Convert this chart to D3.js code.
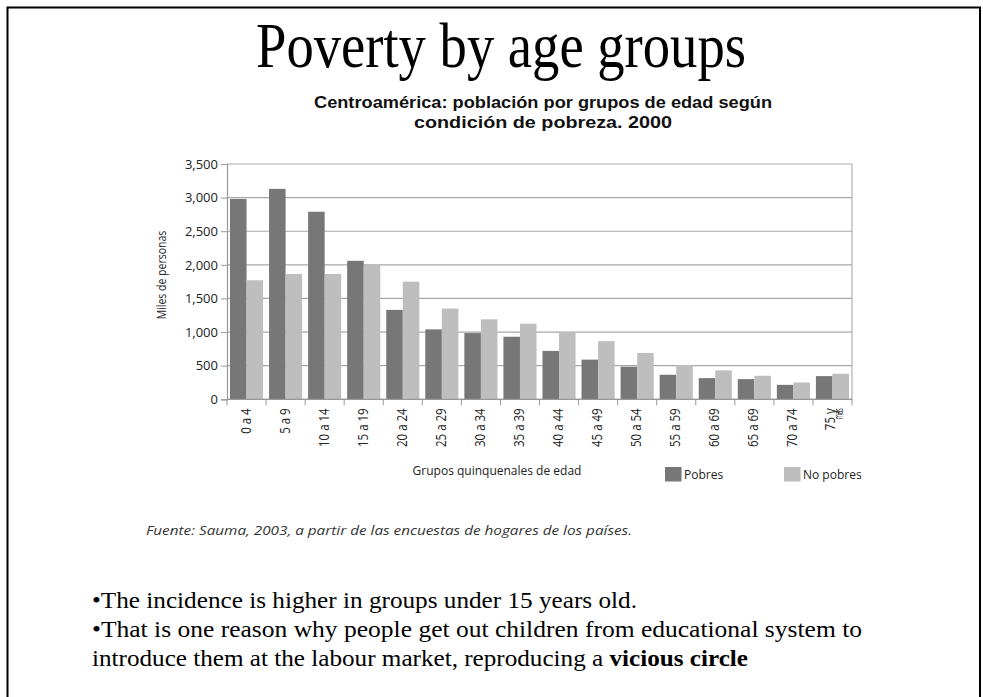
<!DOCTYPE html>
<html>
<head>
<meta charset="utf-8">
<script src="https://cdn.jsdelivr.net/npm/d3@7"></script>
<style>
  html, body { margin: 0; padding: 0; background: #fff; }
  svg { display: block; }
</style>
</head>
<body>
<script>
// ---- data ----
const categories = ["0 a 4","5 a 9","10 a 14","15 a 19","20 a 24","25 a 29","30 a 34","35 a 39",
                    "40 a 44","45 a 49","50 a 54","55 a 59","60 a 69","65 a 69","70 a 74","75 y más"];
const pobres   = [2980,3130,2790,2060,1330,1040,985,930,720,590,485,365,315,300,215,345];
const noPobres = [1770,1865,1865,2010,1750,1350,1190,1125,990,865,690,510,430,350,250,380];
const seriesNames = ["Pobres","No pobres"];
const yTicks = [0,500,1000,1500,2000,2500,3000,3500];
const seriesColors = ["#777777","#bebebe"];

(function() {
const W = 983, H = 697;
const svg = d3.select("body").append("svg").attr("width", W).attr("height", H);

// slide frame
svg.append("path").attr("d", "M7.5,700 V7.5 H980 V700")
  .attr("fill","none").attr("stroke","#000").attr("stroke-width",2);

// slide title
svg.append("text").attr("x", 501).attr("y", 67).attr("text-anchor","middle")
  .attr("font-family","'Liberation Serif', 'Times New Roman', serif").attr("font-size",64)
  .attr("textLength",490).attr("lengthAdjust","spacingAndGlyphs")
  .text("Poverty by age groups");

// chart title
const sub = svg.append("g").attr("font-family","'Liberation Sans', Arial, sans-serif").attr("font-weight","bold")
  .attr("font-size",17).attr("text-anchor","middle").attr("fill","#111");
sub.append("text").attr("x",543).attr("y",108).attr("textLength",458).attr("lengthAdjust","spacingAndGlyphs")
  .text("Centroamérica: población por grupos de edad según");
sub.append("text").attr("x",543).attr("y",127.5).attr("textLength",258).attr("lengthAdjust","spacingAndGlyphs")
  .text("condición de pobreza. 2000");

// ---- chart ----
const pLeft = 227, pRight = 852, pTop = 164, pBottom = 399.3;
const x0 = d3.scaleBand().domain(categories).range([pLeft, pRight]).padding(0);
const x1 = d3.scaleBand().domain(seriesNames).range([0, x0.bandwidth()]).paddingInner(0).paddingOuter(0.18);
const y = d3.scaleLinear().domain([0, 3500]).range([pBottom, pTop]);

const chartFont = "'Open Sans', 'Noto Sans', sans-serif";

// gridlines
svg.append("g").selectAll("line").data(yTicks).join("line")
  .attr("x1", pLeft).attr("x2", pRight).attr("y1", d => y(d)).attr("y2", d => y(d))
  .attr("stroke", "#a8a8a8").attr("stroke-width", 1.2);
// right border of plot
svg.append("line").attr("x1", pRight).attr("x2", pRight).attr("y1", y(3500)).attr("y2", pBottom)
  .attr("stroke","#b0b0b0").attr("stroke-width",1.2);

// bars
const rows = categories.map((c, i) => ({cat: c, vals: [pobres[i], noPobres[i]]}));
const groups = svg.append("g").selectAll("g").data(rows).join("g")
  .attr("transform", d => `translate(${x0(d.cat)},0)`);
groups.selectAll("rect").data(d => d.vals.map((v, j) => ({s: seriesNames[j], v, j}))).join("rect")
  .attr("x", d => x1(d.s)).attr("width", x1.bandwidth())
  .attr("y", d => y(d.v)).attr("height", d => pBottom - y(d.v))
  .attr("fill", d => seriesColors[d.j]);

// y axis
const yAxis = d3.axisLeft(y).tickValues(yTicks).tickFormat(d3.format(",")).tickSize(6).tickPadding(3);
const ya = svg.append("g").attr("transform", `translate(${pLeft},0)`).call(yAxis);
ya.select(".domain").attr("stroke","#999").attr("stroke-width",1.2);
ya.selectAll(".tick line").attr("stroke","#999");
ya.selectAll(".tick text").attr("font-family", chartFont).attr("font-size",13).attr("fill","#222");

// x axis
const xa = svg.append("g").attr("transform", `translate(0,${pBottom})`);
xa.append("line").attr("x1", pLeft).attr("x2", pRight).attr("stroke","#999").attr("stroke-width",1.2);
xa.selectAll("line.tk").data(categories.concat(["__end"])).join("line").attr("class","tk")
  .attr("x1", (d,i) => pLeft + i * x0.step()).attr("x2", (d,i) => pLeft + i * x0.step())
  .attr("y1", 0).attr("y2", 6).attr("stroke","#999");
const xl = xa.selectAll("g.lab").data(categories).join("g").attr("class","lab")
  .attr("transform", d => `translate(${x0(d) + x0.bandwidth()/2 + 4},9) rotate(-90) scale(1,1.3)`);
xl.each(function(d) {
  const g = d3.select(this);
  if (d === "75 y más") {
    g.append("text").attr("text-anchor","end").attr("x",0).attr("y",-1)
      .attr("font-family",chartFont).attr("font-size",11.5).attr("fill","#222").text("75 y");
    g.append("text").attr("text-anchor","end").attr("x",0).attr("y",5)
      .attr("font-family",chartFont).attr("font-size",9).attr("fill","#222")
      .attr("textLength",11).attr("lengthAdjust","spacingAndGlyphs").text("más");
  } else {
    g.append("text").attr("text-anchor","end").attr("x",0).attr("y",0)
      .attr("font-family",chartFont).attr("font-size",11.5).attr("fill","#222").text(d);
  }
});

// y-axis title
svg.append("text").attr("transform","translate(166,275) rotate(-90) scale(1,1.25)")
  .attr("text-anchor","middle").attr("font-family",chartFont).attr("font-size",10.5).attr("fill","#222")
  .text("Miles de personas");

// x-axis title
svg.append("text").attr("x",497).attr("y",475).attr("text-anchor","middle")
  .attr("font-family",chartFont).attr("font-size",12).attr("fill","#222")
  .text("Grupos quinquenales de edad");

// legend
const legendX = [665, 784];
const lg = svg.append("g").selectAll("g").data(seriesNames).join("g")
  .attr("transform", (d,i) => `translate(${legendX[i]},467)`);
lg.append("rect").attr("width",16.5).attr("height",14.5).attr("fill",(d,i)=>seriesColors[i]);
lg.append("text").attr("x",19).attr("y",12).attr("font-family",chartFont).attr("font-size",12)
  .attr("fill","#222").text(d => d);

// source
svg.append("text").attr("x",146).attr("y",535).attr("font-family",chartFont).attr("font-style","italic")
  .attr("font-size",12).attr("fill","#333").attr("textLength",486).attr("lengthAdjust","spacingAndGlyphs")
  .text("Fuente: Sauma, 2003, a partir de las encuestas de hogares de los países.");

// bullet text
const serif = "'Liberation Serif', 'Times New Roman', serif";
const b = svg.append("g").attr("font-family",serif).attr("font-size",23).attr("fill","#000");
b.append("text").attr("x",92).attr("y",608).attr("textLength",545).attr("lengthAdjust","spacingAndGlyphs")
  .text("•The incidence is higher in groups under 15 years old.");
b.append("text").attr("x",92).attr("y",637).attr("textLength",770).attr("lengthAdjust","spacingAndGlyphs")
  .text("•That is one reason why people get out children from educational system to");
const t3 = b.append("text").attr("x",92).attr("y",666).attr("textLength",656).attr("lengthAdjust","spacingAndGlyphs");
t3.append("tspan").text("introduce them at the labour market, reproducing a ");
t3.append("tspan").attr("font-weight","bold").text("vicious circle");
})();
</script>
</body>
</html>
